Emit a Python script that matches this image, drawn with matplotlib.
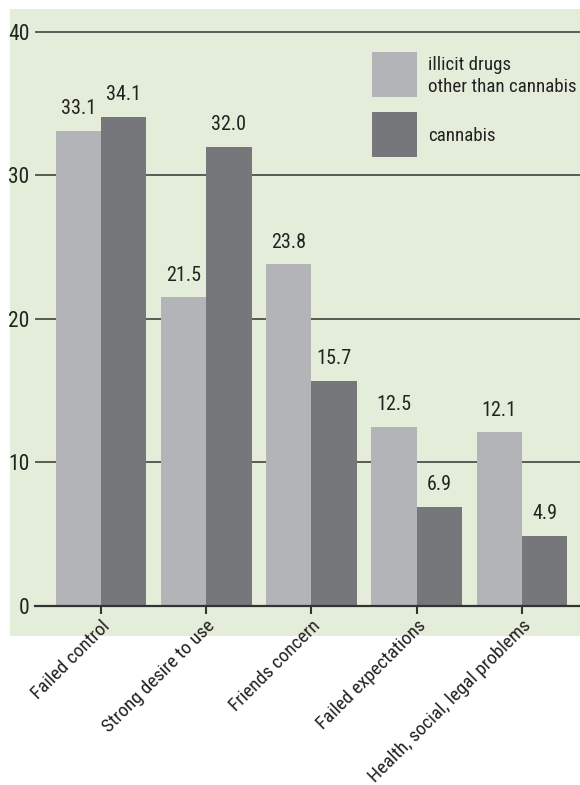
import matplotlib
matplotlib.use("Agg")
import matplotlib.pyplot as plt
from matplotlib import font_manager
from matplotlib.patches import Rectangle
import numpy as np

categories = ["Failed control", "Strong desire to use", "Friends concern",
              "Failed expectations", "Health, social, legal problems"]
series_names = ["illicit drugs\nother than cannabis", "cannabis"]
illicit = [33.1, 21.5, 23.8, 12.5, 12.1]
cannabis = [34.1, 32.0, 15.7, 6.9, 4.9]
yticks = [0, 10, 20, 30, 40]

colors = ["#b3b4b8", "#76777b"]
bg = "#e4edd9"
txt = "#222222"
line_col = "#333333"

def pick_font(cands):
    for c in cands:
        try:
            font_manager.findfont(font_manager.FontProperties(family=c), fallback_to_default=False)
            return c
        except Exception:
            pass
    return "DejaVu Sans"

fam = pick_font(["Liberation Sans Narrow", "Roboto Condensed", "Open Sans Condensed", "Liberation Sans"])
plt.rcParams['font.family'] = [fam, 'DejaVu Sans']

W, H = 580, 785
fig = plt.figure(figsize=(W/100, H/100), dpi=100)
fig.patch.set_facecolor("white")
# green panel
fig.patches.append(Rectangle((10/W, 1-636/H), (580-10)/W, (636-9)/H,
                             transform=fig.transFigure, facecolor=bg, edgecolor="none", zorder=-10))

ax_left, ax_bottom_px, ax_top_px = 35, 606, 9
ax = fig.add_axes([ax_left/W, 1-ax_bottom_px/H, (W-ax_left)/W, (ax_bottom_px-ax_top_px)/H])
ax.set_facecolor("none")
ax.set_zorder(1)

x = np.arange(len(categories))
w = 0.43
ax.bar(x - w/2, illicit, w, color=colors[0], zorder=3)
ax.bar(x + w/2, cannabis, w, color=colors[1], zorder=3)

for xi, v in zip(x - w/2, illicit):
    ax.annotate(f"{v:.1f}", (xi, v), xytext=(0, 9), textcoords="offset points",
                ha="center", va="bottom", fontsize=14.5, color=txt)
for xi, v in zip(x + w/2, cannabis):
    ax.annotate(f"{v:.1f}", (xi, v), xytext=(0, 9), textcoords="offset points",
                ha="center", va="bottom", fontsize=14.5, color=txt)

ax.set_xlim(-0.627, 4.551)
ax.set_ylim(0, 41.6)
ax.set_yticks(yticks)
ax.set_yticklabels([str(t) for t in yticks], fontsize=15.5, color=txt)
ax.yaxis.grid(True, color=line_col, linewidth=1.1, zorder=1)
ax.set_axisbelow(True)
ax.tick_params(axis="y", length=0, pad=4)
ax.set_xticks(x)
ax.set_xticklabels(categories, rotation=45, ha="right", va="top",
                   rotation_mode="anchor", fontsize=13.8, color=txt)
ax.tick_params(axis="x", length=6, width=1.5, color=line_col, pad=2)
for s in ["left", "right", "top"]:
    ax.spines[s].set_visible(False)
ax.spines["bottom"].set_color(line_col)
ax.spines["bottom"].set_linewidth(1.6)
ax.spines["bottom"].set_zorder(4)

# legend (manual)
leg_x = 372
for i, (name, col, ytop) in enumerate(zip(series_names, colors, [52, 112])):
    fig.patches.append(Rectangle((leg_x/W, 1-(ytop+45)/H), 45/W, 45/H,
                                 transform=fig.transFigure, facecolor=col, edgecolor="none", zorder=5))
fig.text(428/W, 1-76/H, series_names[0], ha="left", va="center", fontsize=13.7,
         color=txt, linespacing=1.25)
fig.text(428/W, 1-136/H, series_names[1], ha="left", va="center", fontsize=13.7,
         color=txt)

fig.savefig("out.png", dpi=100)
